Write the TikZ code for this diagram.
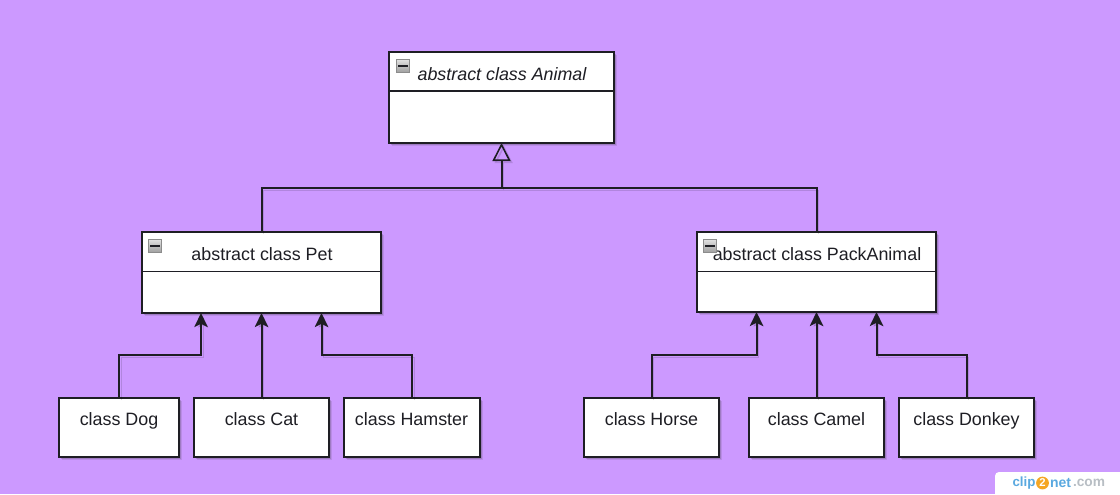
\documentclass[tikz,border=0pt]{standalone}
\usepackage{fontspec}
\setmainfont{Liberation Sans}
\usetikzlibrary{arrows.meta,shadows,shapes.geometric}
\definecolor{bgpurple}{HTML}{CC99FF}
\definecolor{ink}{HTML}{1E1E24}
\definecolor{clipblue}{HTML}{5AA9E0}
\definecolor{clipgrey}{HTML}{B8BEC4}
\definecolor{cliporange}{HTML}{F5A623}
\tikzset{
  softshadow/.style={
    drop shadow={shadow xshift=2.6pt,shadow yshift=-2.6pt,opacity=.12,fill=black!80},
    drop shadow={shadow xshift=1.5pt,shadow yshift=-1.5pt,opacity=.2,fill=black!80}},
  boxbase/.style={draw=ink,fill=white,line width=1.15pt,inner sep=0pt,outer sep=0pt,softshadow},
  classbox/.style={boxbase,minimum height=44.25pt},
  umlhead/.style={draw=ink,fill=white,line width=1.15pt,inner sep=0pt,outer sep=0pt,minimum height=29.6pt},
  umlbody/.style={boxbase},
  txt/.style={inner sep=0pt,outer sep=0pt,text=ink,text height=9.7pt,text depth=2.8pt,yshift=-1.1pt,font=\fontsize{13.4}{15}\selectfont},
  collapse/.style={draw=black!45,top color=black!12,bottom color=black!38,line width=.7pt,
    minimum size=9.8pt,inner sep=0pt,outer sep=0pt,
    path picture={\draw[ink,line width=1.2pt] ([xshift=-3.4pt]path picture bounding box.center)--([xshift=3.4pt]path picture bounding box.center);}},
  conn/.style={draw=ink,line width=1.5pt,
    preaction={draw=black,opacity=.13,transform canvas={shift={(1.6pt,-1.6pt)}}}},
  inherit/.style={conn,-{Stealth[length=10.5pt,width=10pt,inset=2.4pt]}},
  generalize/.style={conn,-{Triangle[open,length=13.5pt,width=13.5pt,line width=1.2pt]}},
}
\begin{document}
\begin{tikzpicture}[x=0.75pt,y=-0.75pt]
\useasboundingbox (0,0) rectangle (1120,494);
\fill[bgpurple] (0,0) rectangle (1120,494);

% Animal
\node[umlbody,minimum width=168.75pt,minimum height=68.25pt] (animalbox) at (501.5,97.5) {};
\node[umlhead,minimum width=168.75pt] (animalhead) at (501.5,71.5) {};
\node[collapse] (animalicon) at (403,66) {};
\node[txt,font=\fontsize{13.4}{15}\selectfont\itshape] (animaltext) at (502,74) {abstract class Animal};

% Pet
\node[umlbody,minimum width=179.25pt,minimum height=60.75pt] (petbox) at (261.5,272.5) {};
\node[umlhead,minimum width=179.25pt] (pethead) at (261.5,251.7) {};
\node[collapse] (peticon) at (155,246) {};
\node[txt] (pettext) at (262,254) {abstract class Pet};

% PackAnimal
\node[umlbody,minimum width=179.25pt,minimum height=60pt] (packbox) at (816.5,272) {};
\node[umlhead,minimum width=179.25pt] (packhead) at (816.5,251.7) {};
\node[txt] (packtext) at (817,254) {abstract class PackAnimal};
\node[collapse] (packicon) at (710,246) {};

% Leaf classes
\node[classbox,minimum width=90pt] (dog) at (119,427.5) {};
\node[txt] (dogtext) at (119,419) {class Dog};
\node[classbox,minimum width=101.25pt] (cat) at (261.5,427.5) {};
\node[txt] (cattext) at (261.5,419) {class Cat};
\node[classbox,minimum width=102pt] (hamster) at (412,427.5) {};
\node[txt] (hamstertext) at (411.5,419) {class Hamster};
\node[classbox,minimum width=101.25pt] (horse) at (651.5,427.5) {};
\node[txt] (horsetext) at (651.5,419) {class Horse};
\node[classbox,minimum width=101.25pt] (camel) at (816.5,427.5) {};
\node[txt] (cameltext) at (816.5,419) {class Camel};
\node[classbox,minimum width=101.25pt] (donkey) at (966.5,427.5) {};
\node[txt] (donkeytext) at (966.5,419) {class Donkey};

% Ports on the parents
\coordinate (petL) at (201,313);
\coordinate (petR) at (321.5,313);
\coordinate (packL) at (756.5,312);
\coordinate (packR) at (876.5,312);
\coordinate (trunk) at (501.5,188);

% Inheritance connectors
\draw[inherit] (dog.north) -- ++(0,-43) -| (petL);
\draw[inherit] (cat.north) -- (petbox.south);
\draw[inherit] (hamster.north) -- ++(0,-43) -| (petR);
\draw[inherit] (horse.north) -- ++(0,-43) -| (packL);
\draw[inherit] (camel.north) -- (packbox.south);
\draw[inherit] (donkey.north) -- ++(0,-43) -| (packR);

% Generalisation
\draw[conn] (pethead.north) |- (trunk) -| (packhead.north);
\draw[generalize] (trunk) -- (animalbox.south);

% Watermark
\fill[white,rounded corners=3pt] (995,472) -- (1125,472) -- (1125,499) -- (995,499) -- cycle;
\node[circle,fill=cliporange,minimum size=9.6pt,inner sep=0pt,text=white,font=\fontsize{8.5}{9}\selectfont\bfseries] (cliptwo) at (1042.5,483) {2};
\node[inner sep=0pt,outer sep=0pt,font=\fontsize{10}{12}\selectfont\bfseries,text=clipblue,anchor=east] (cliptext) at (1035.5,483) {clip};
\node[inner sep=0pt,outer sep=0pt,font=\fontsize{10.5}{12}\selectfont\bfseries,text=clipblue,anchor=west] (clipnet) at (1050,483) {net};
\node[inner sep=0pt,outer sep=0pt,font=\fontsize{10.3}{12}\selectfont\bfseries,text=clipgrey,anchor=west] (clipcom) at (1073,483) {.com};
\end{tikzpicture}
\end{document}
